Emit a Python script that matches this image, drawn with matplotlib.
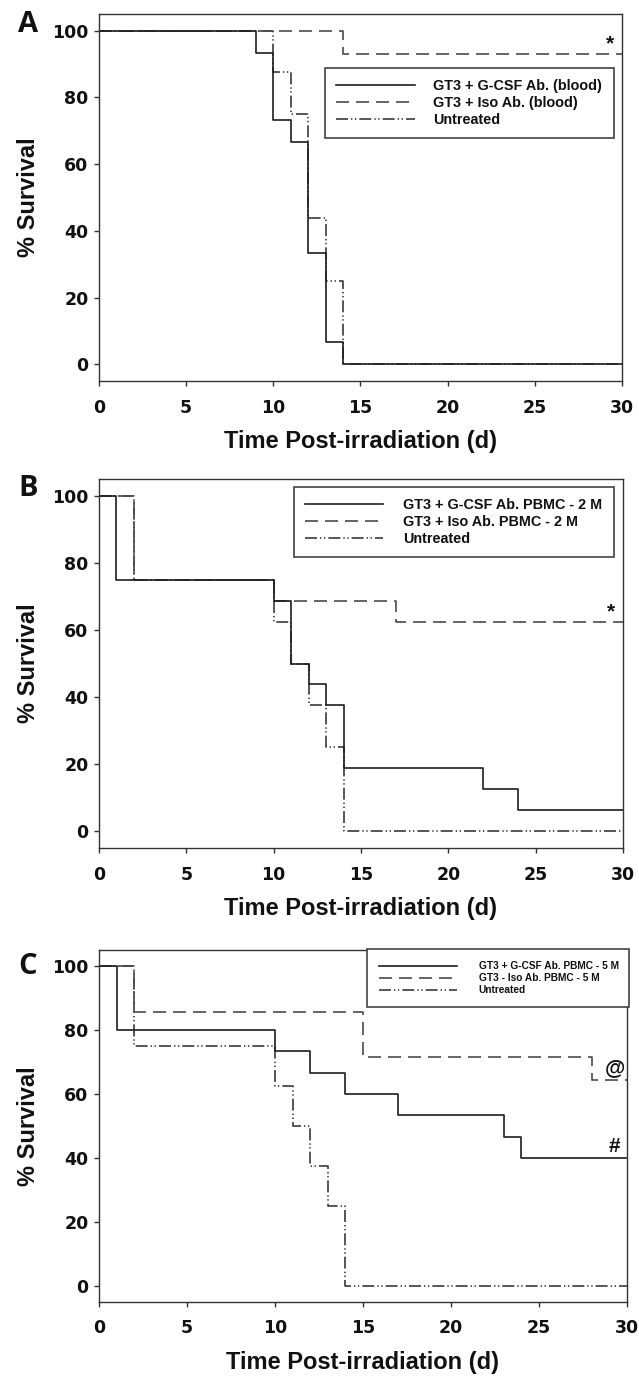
import matplotlib
matplotlib.use('Agg')
import matplotlib.pyplot as plt

# survival curves (day of step, % survival after the step)
days_a_gcsf = [0, 9, 10, 11, 12, 13, 14, 30]
surv_a_gcsf = [100, 93.3, 73.3, 66.7, 33.3, 6.7, 0, 0]
days_a_iso = [0, 14, 30]
surv_a_iso = [100, 92.9, 92.9]
days_a_untr = [0, 10, 11, 12, 13, 14, 30]
surv_a_untr = [100, 87.5, 75, 43.75, 25, 0, 0]

days_b_gcsf = [0, 1, 10, 11, 12, 13, 14, 22, 24, 30]
surv_b_gcsf = [100, 75, 68.75, 50, 43.75, 37.5, 18.75, 12.5, 6.25, 6.25]
days_b_iso = [0, 2, 10, 17, 30]
surv_b_iso = [100, 75, 68.75, 62.5, 62.5]
days_b_untr = [0, 2, 10, 11, 12, 13, 14, 30]
surv_b_untr = [100, 75, 62.5, 50, 37.5, 25, 0, 0]

days_c_gcsf = [0, 1, 10, 12, 14, 17, 23, 24, 30]
surv_c_gcsf = [100, 80, 73.3, 66.7, 60, 53.3, 46.7, 40, 40]
days_c_iso = [0, 2, 15, 28, 30]
surv_c_iso = [100, 85.7, 71.4, 64.3, 64.3]
days_c_untr = [0, 2, 10, 11, 12, 13, 14, 30]
surv_c_untr = [100, 75, 62.5, 50, 37.5, 25, 0, 0]

labels_a = ['GT3 + G-CSF Ab. (blood)', 'GT3 + Iso Ab. (blood)', 'Untreated']
labels_b = ['GT3 + G-CSF Ab. PBMC - 2 M', 'GT3 + Iso Ab. PBMC - 2 M', 'Untreated']
labels_c = ['GT3 + G-CSF Ab. PBMC - 5 M', 'GT3 - Iso Ab. PBMC - 5 M', 'Untreated']

# significance marks (text, x, y)
marks_a = [('*', 29.3, 96.0)]
marks_b = [('*', 29.3, 65.5)]
marks_c = [('@', 29.3, 68.3), ('#', 29.3, 43.6)]

x_ticks = [0, 5, 10, 15, 20, 25, 30]
y_ticks = [0, 20, 40, 60, 80, 100]

plt.rcParams['lines.scale_dashes'] = False
DASHED = (0, (9.4, 5))
DASHDOTDOT = (0, (8.6, 2.2, 1, 1.8, 1, 2.2))
EDGE = '#333333'


def draw_panel(ax, curves, labels, marks, leg_box, leg_size, leg_pad, hlen, htpad):
    styles = [('-', '#1e1e1e'), (DASHED, '#4a4a4a'), (DASHDOTDOT, '#3a3a3a')]
    handles = [None, None, None]
    # untreated first so the treated curves sit on top
    for i in [2, 1, 0]:
        days, surv = curves[i]
        ls, col = styles[i]
        line, = ax.step(days, surv, where='post', color=col, lw=1.2, linestyle=ls)
        handles[i] = line

    ax.set_xlim(0, 30)
    ax.set_ylim(-5, 105)
    ax.set_xticks(x_ticks)
    ax.set_yticks(y_ticks)
    for sp in ax.spines.values():
        sp.set_color(EDGE)
        sp.set_linewidth(1.0)
    ax.tick_params(axis='both', direction='out', length=3.6, width=1.0, color=EDGE)
    ax.tick_params(axis='x', pad=9)
    ax.tick_params(axis='y', pad=4)
    for t in ax.get_xticklabels() + ax.get_yticklabels():
        t.set_fontfamily('DejaVu Sans')
        t.set_fontweight('bold')
        t.set_fontsize(12.5)
        t.set_color('#111111')

    ax.set_xlabel('Time Post-irradiation (d)', fontsize=17, fontweight='bold',
                  family='Liberation Sans', labelpad=10, color='#111111')
    ax.set_ylabel('% Survival', fontsize=17, fontweight='bold',
                  family='Liberation Sans', labelpad=9, color='#111111')

    for txt, x, y in marks:
        ax.text(x, y, txt, ha='center', va='center', fontsize=15, fontweight='bold',
                family='Liberation Sans', color='#111111')

    leg = ax.legend(handles, labels, loc='upper left', bbox_to_anchor=leg_box,
                    mode='expand', borderaxespad=0, borderpad=leg_pad,
                    labelspacing=0.2, handlelength=hlen, handletextpad=htpad,
                    fancybox=False, framealpha=1,
                    prop={'family': 'Liberation Sans', 'weight': 'bold', 'size': leg_size})
    leg.get_frame().set_edgecolor(EDGE)
    leg.get_frame().set_linewidth(1.1)
    for t in leg.get_texts():
        t.set_color('#111111')


fig = plt.figure(figsize=(6.39, 13.78), dpi=100)

ax_a = fig.add_axes([0.1549, 0.7235, 0.8185, 0.2663])
ax_b = fig.add_axes([0.1549, 0.3846, 0.8200, 0.2678])
ax_c = fig.add_axes([0.1549, 0.0552, 0.8263, 0.2554])

draw_panel(ax_a,
           [(days_a_gcsf, surv_a_gcsf), (days_a_iso, surv_a_iso), (days_a_untr, surv_a_untr)],
           labels_a, marks_a, (0.432, 0.646, 0.553, 0.207), 10.4, 0.76, 5.5, 1.25)
draw_panel(ax_b,
           [(days_b_gcsf, surv_b_gcsf), (days_b_iso, surv_b_iso), (days_b_untr, surv_b_untr)],
           labels_b, marks_b, (0.372, 0.775, 0.611, 0.203), 10.4, 0.76, 5.4, 1.39)
draw_panel(ax_c,
           [(days_c_gcsf, surv_c_gcsf), (days_c_iso, surv_c_iso), (days_c_untr, surv_c_untr)],
           labels_c, marks_c, (0.508, 0.83, 0.496, 0.173), 7.3, 1.2, 7.7, 2.08)

# panel letters
for letter, y in [('A', 24), ('B', 488), ('C', 966)]:
    fig.text(28 / 639, 1 - y / 1378, letter, ha='center', va='center',
             fontsize=21, family='Open Sans', fontweight='bold', color='#111111')

fig.savefig('out.png', dpi=100)
